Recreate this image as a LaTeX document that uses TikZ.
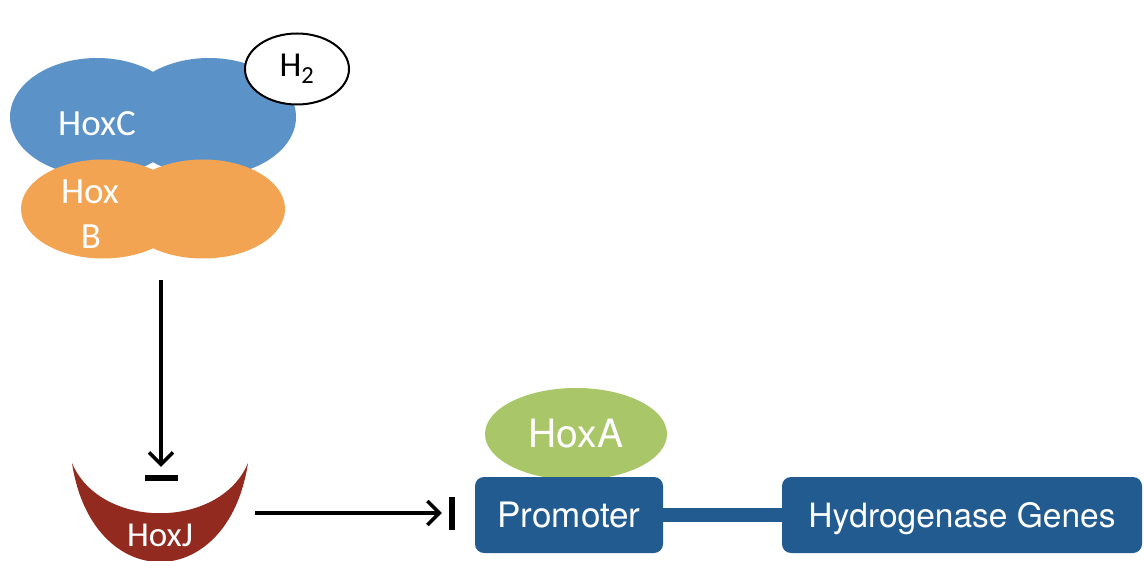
\documentclass[tikz,border=0pt]{standalone}
\usepackage{fontspec}
\setmainfont{TeX Gyre Heros}
\newfontfamily\calibrifont{Carlito}
\usetikzlibrary{shapes.geometric,arrows.meta}
\definecolor{lobeblue}{HTML}{5B93C9}
\definecolor{lobeorange}{HTML}{F2A452}
\definecolor{hoxagreen}{HTML}{A9C768}
\definecolor{hoxjred}{HTML}{922A1F}
\definecolor{boxblue}{HTML}{225B90}
\tikzset{
  lobe/.style={ellipse, inner sep=0pt},
  protlabel/.style={text=white, font=\calibrifont\fontsize{37}{40}\selectfont},
  genebox/.style={fill=boxblue, rounded corners=9pt, minimum height=76pt,
    text=white, text height=25pt, text depth=0pt,
    font=\fontsize{35}{40}\selectfont},
  inhibitbar/.style={fill=black, inner sep=0pt},
  signal/.style={line width=3.5pt, -{Straight Barb[length=12pt,width=24pt,line width=3.5pt]}}
}
\begin{document}
\begin{tikzpicture}[x=1pt,y=-1pt]
  \useasboundingbox (0,0) rectangle (1144,561);
  % HoxC, HoxB and H2
  \draw
    (97,117) node[lobe, fill=lobeblue, minimum width=174pt, minimum height=118pt] (hoxcL){}
    (209,117) node[lobe, fill=lobeblue, minimum width=174pt, minimum height=118pt] (hoxcR){}
    (103,209) node[lobe, fill=lobeorange, minimum width=164pt, minimum height=99pt] (hoxbL){}
    (203,209) node[lobe, fill=lobeorange, minimum width=164pt, minimum height=99pt] (hoxbR){}
    (297,69) node[lobe, draw=black, line width=2pt, fill=white, minimum width=104pt, minimum height=71pt, font=\calibrifont\fontsize{35}{38}\selectfont] (h2){H\textsubscript{2}};
  \node[protlabel] (hoxc) at (97,124) {HoxC};
  \node[protlabel] (hoxb1) at (90,192) {Hox};
  \node[protlabel] (hoxb2) at (91,237) {B};
  % HoxJ
  \fill[hoxjred] (72,463) .. controls (92,595) and (228,595) .. (248,463)
    .. controls (220,530) and (100,530) .. (72,463);
  \node[protlabel, font=\calibrifont\fontsize{35}{38}\selectfont] (hoxj) at (160,535) {HoxJ};
  % promoter and genes
  \node[lobe, fill=hoxagreen, minimum width=182pt, minimum height=92pt,
    text=white, font=\fontsize{39}{42}\selectfont] (hoxa) at (576,434) {HoxA};
  \node[genebox, minimum width=188pt] (promoter) at (569,515) {Promoter};
  \node[genebox, minimum width=360pt, font=\fontsize{33.5}{40}\selectfont] (genes) at (962,515) {Hydrogenase Genes};
  \draw[boxblue, line width=14pt] (promoter.east) -- (genes.west);
  % bars and arrows
  \node[inhibitbar, minimum width=33pt, minimum height=6pt] (jbar) at (161,478) {};
  \node[inhibitbar, minimum width=6pt, minimum height=33pt] (pbar) at (452,513) {};
  \coordinate (bcout) at (161,280);
  \coordinate (jout) at (255,513);
  \begin{scope}[signal]
    \draw[shorten >=8pt] (bcout) to (jbar.north);
    \draw[shorten >=7pt] (jout) to (pbar.west);
  \end{scope}
\end{tikzpicture}
\end{document}
